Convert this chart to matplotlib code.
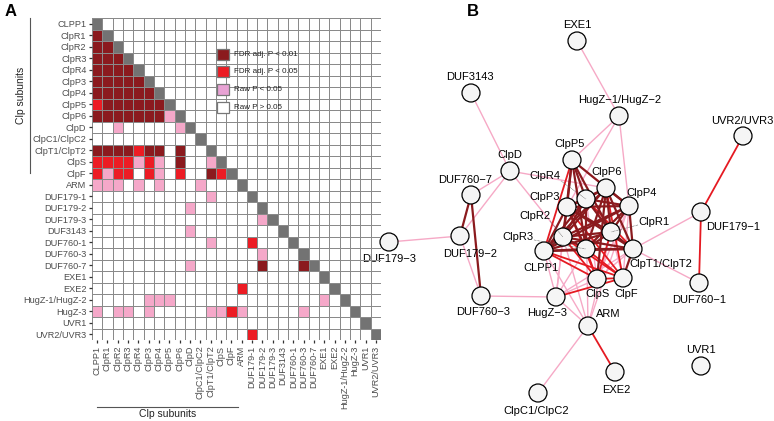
import matplotlib
matplotlib.use('Agg')
import matplotlib.pyplot as plt
import numpy as np
from matplotlib.colors import ListedColormap, BoundaryNorm
from matplotlib.patches import Circle, Rectangle

plt.rcParams['font.family'] = ['Liberation Sans', 'DejaVu Sans']

# proteins, in heatmap order
proteins = ['CLPP1', 'ClpR1', 'ClpR2', 'ClpR3', 'ClpR4', 'ClpP3', 'ClpP4', 'ClpP5',
            'ClpP6', 'ClpD', 'ClpC1/ClpC2', 'ClpT1/ClpT2', 'ClpS', 'ClpF', 'ARM',
            'DUF179-1', 'DUF179-2', 'DUF179-3', 'DUF3143', 'DUF760-1', 'DUF760-3',
            'DUF760-7', 'EXE1', 'EXE2', 'HugZ-1/HugZ-2', 'HugZ-3', 'UVR1', 'UVR2/UVR3']

# lower triangle, one string per row (columns 0..i-1)
# 0 = raw P > 0.05, 1 = raw P < 0.05, 2 = FDR adj. P < 0.05, 3 = FDR adj. P < 0.01
lower = [
    '',
    '3',
    '33',
    '333',
    '3333',
    '33333',
    '333333',
    '2333333',
    '33333331',
    '001000001',
    '0000000000',
    '33332330300',
    '222212103001',
    '2122021020032',
    '11101010001000',
    '000000000001000',
    '0000000001000000',
    '00000000000000001',
    '000000000100000000',
    '0000000000010002000',
    '00000000000000001000',
    '000000000100000030003',
    '0000000000000000000000',
    '00000000000000200000000',
    '000001110000000000000010',
    '1011010000011210000010000',
    '00000000000000000000000000',
    '000000000000000200000000000',
]

legend_labels = ['FDR adj. P < 0.01', 'FDR adj. P < 0.05', 'Raw P < 0.05', 'Raw P > 0.05']

# network layout (pixel positions) and label positions
node_xy = {
    'CLPP1': (544, 251), 'ClpR1': (611, 232), 'ClpR2': (563, 237), 'ClpR3': (586, 249),
    'ClpR4': (586, 199), 'ClpP3': (567, 207), 'ClpP4': (629, 206), 'ClpP5': (572, 160),
    'ClpP6': (606, 188), 'ClpD': (510, 171), 'ClpC1/ClpC2': (538, 393),
    'ClpT1/ClpT2': (633, 249), 'ClpS': (597, 279), 'ClpF': (623, 278), 'ARM': (588, 326),
    'DUF179-1': (701, 212), 'DUF179-2': (460, 236), 'DUF179-3': (389, 242),
    'DUF3143': (471, 93), 'DUF760-1': (699, 283), 'DUF760-3': (481, 296),
    'DUF760-7': (471, 195), 'EXE1': (577, 41), 'EXE2': (615, 372),
    'HugZ-1/HugZ-2': (619, 116), 'HugZ-3': (556, 297), 'UVR1': (701, 366),
    'UVR2/UVR3': (743, 136),
}
label_xy = {
    'CLPP1': (541, 268), 'ClpR1': (654, 222), 'ClpR2': (535, 216), 'ClpR3': (518, 237),
    'ClpR4': (545, 176), 'ClpP3': (545, 197), 'ClpP4': (642, 193), 'ClpP5': (570, 144),
    'ClpP6': (607, 172), 'ClpD': (510, 155), 'ClpC1/ClpC2': (536, 411),
    'ClpT1/ClpT2': (661, 264), 'ClpS': (597, 294), 'ClpF': (626, 294), 'ARM': (608, 314),
    'DUF179-1': (733, 227), 'DUF179-2': (470, 254), 'DUF179-3': (389, 259),
    'DUF3143': (470, 77), 'DUF760-1': (699, 300), 'DUF760-3': (483, 312),
    'DUF760-7': (465, 180), 'EXE1': (577, 25), 'EXE2': (616, 390),
    'HugZ-1/HugZ-2': (620, 100), 'HugZ-3': (547, 313), 'UVR1': (701, 350),
    'UVR2/UVR3': (742, 121),
}
leaders = {'ClpR4': (561, 181), 'ClpR2': (550, 221), 'ClpR3': (534, 240), 'ClpR1': (638, 225)}

cell_colors = ['white', '#F5A8C9', '#EC1C24', '#8B1A1E', '#737373']
legend_colors = ['#8B1A1E', '#EC1C24', '#E8A2D4', 'white']
edge_colors = {1: '#F6A9C6', 2: '#E51A22', 3: '#8B1A1E'}
edge_widths = {1: 1.0, 2: 1.3, 3: 1.6}

n = len(proteins)
mat = np.full((n, n), np.nan)
for i, row in enumerate(lower):
    for j, ch in enumerate(row):
        mat[i, j] = int(ch)
    mat[i, i] = 4

W, H = 774, 421
fig = plt.figure(figsize=(W / 100, H / 100), dpi=100)

# overlay axes in pixel coordinates
ax0 = fig.add_axes([0, 0, 1, 1])
ax0.set_xlim(0, W)
ax0.set_ylim(H, 0)
ax0.axis('off')

ax0.text(5, 12, 'A', fontsize=12, fontweight='bold', va='center')
ax0.text(467, 12, 'B', fontsize=12, fontweight='bold', va='center')

# Clp subunit brackets
ax0.plot([30, 30], [18, 173], color='#555555', lw=0.8)
ax0.text(21, 95, 'Clp subunits', rotation=90, ha='center', va='center', fontsize=7.5, color='#222222')
ax0.plot([97, 238], [407, 407], color='#555555', lw=0.8)
ax0.text(168, 414, 'Clp subunits', ha='center', va='center', fontsize=7.5, color='#222222')

# network edges
for level in (1, 2, 3):
    for i in range(n):
        for j in range(i):
            if mat[i, j] == level:
                x1, y1 = node_xy[proteins[i]]
                x2, y2 = node_xy[proteins[j]]
                ax0.plot([x1, x2], [y1, y2], color=edge_colors[level],
                         lw=edge_widths[level], solid_capstyle='butt', zorder=2)

# nodes
for p in proteins:
    ax0.add_patch(Circle(node_xy[p], 9, facecolor='#F5F5F5', edgecolor='black', lw=0.9, zorder=3))
for p, (lx, ly) in leaders.items():
    nx, ny = node_xy[p]
    ax0.plot([lx, nx], [ly, ny], ls=(0, (1, 1)), color='#555555', lw=0.5, zorder=4)
for p in proteins:
    lx, ly = label_xy[p]
    ax0.text(lx, ly, p.replace('-', '\u2212'), fontsize=8, ha='center', va='center',
             color='black', zorder=5)

# heatmap
ax = fig.add_axes([92 / W, 1 - 340 / H, 289 / W, 322 / H])
ax.set_facecolor('none')
cmap = ListedColormap(cell_colors)
norm = BoundaryNorm(np.arange(-0.5, 5.5, 1), cmap.N)
ax.pcolormesh(np.ma.masked_invalid(mat), cmap=cmap, norm=norm,
              edgecolors='#8a8a8a', linewidth=0.5)
ax.set_xlim(0, n)
ax.set_ylim(n, 0)
ax.set_xticks(np.arange(n) + 0.5)
ax.set_yticks(np.arange(n) + 0.5)
ax.set_xticklabels(proteins, rotation=90)
ax.set_yticklabels(proteins)
ax.tick_params(length=2.5, width=0.9, color='#333333', labelsize=6.6,
               labelcolor='#4d4d4d', pad=1.5)
for s in ax.spines.values():
    s.set_visible(False)

# legend on its own top layer
axl = fig.add_axes([0, 0, 1, 1])
axl.set_xlim(0, W)
axl.set_ylim(H, 0)
axl.axis('off')
for k, (lab, c) in enumerate(zip(legend_labels, legend_colors)):
    y = 54 + k * 17.7
    axl.add_patch(Rectangle((217, y - 5.5), 12, 11, facecolor=c, edgecolor='#777777', lw=0.9))
    axl.text(234, y, lab, fontsize=5.8, va='center', color='#222222')

fig.savefig('out.png', dpi=100)
